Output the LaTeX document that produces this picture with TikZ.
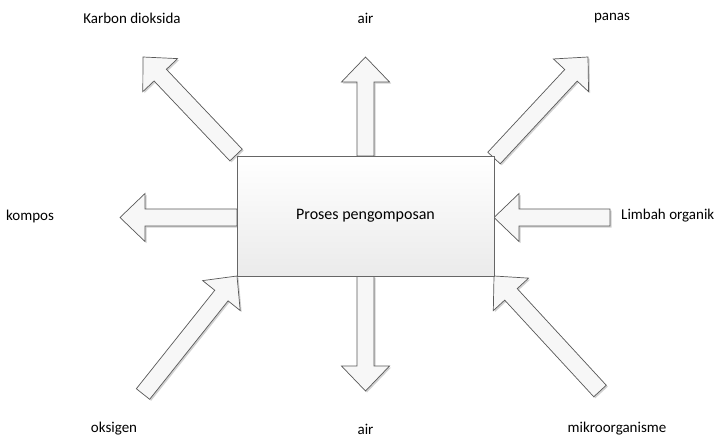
\documentclass[tikz,border=0pt]{standalone}
\usepackage{fontspec}
\setmainfont{Carlito}
\usetikzlibrary{calc,shadows}

\tikzset{
  lbl/.style={font=\fontsize{15}{18}\selectfont, inner sep=0pt},
  procbox/.style={draw=black!60, line width=0.8pt, top color=white, bottom color=black!8,
    font=\fontsize{16}{19}\selectfont, inner sep=0pt,
    drop shadow={shadow xshift=1.2pt, shadow yshift=-1.2pt, opacity=0.15, fill=black}},
  blockarrow/.style={draw=black!65, line width=0.7pt, fill=black!3, line join=miter,
    drop shadow={shadow xshift=1.5pt, shadow yshift=-1.5pt, opacity=0.18, fill=black}}
}

% block arrow from #1 (tail) to #2 (tip): shaft 17, head 48 wide and 25 long
\newcommand\blockarr[2]{%
  \coordinate (ba-h) at ($(#2)!25pt!(#1)$);
  \draw[blockarrow]
    ($(#1)!8.5pt!90:(#2)$) -- ($(ba-h)!8.5pt!90:(#2)$) -- ($(ba-h)!24pt!90:(#2)$)
    -- (#2) -- ($(ba-h)!24pt!-90:(#2)$) -- ($(ba-h)!8.5pt!-90:(#2)$)
    -- ($(#1)!8.5pt!-90:(#2)$) -- cycle;
}

\begin{document}
\begin{tikzpicture}[x=1pt, y=-1pt]
  \useasboundingbox (0,0) rectangle (719,439);

  % central process
  \coordinate (boxc) at (365.5,216);

  % arrow end points
  \coordinate (tl-tail) at (236,155);   \coordinate (tl-tip) at (143,57);
  \coordinate (tu-tail) at (365.5,156); \coordinate (tu-tip) at (365.5,57);
  \coordinate (tr-tail) at (494,158);   \coordinate (tr-tip) at (588,57);
  \coordinate (l-tail)  at (237,217.5); \coordinate (l-tip)  at (120,217.5);
  \coordinate (r-tail)  at (610,217.5); \coordinate (r-tip)  at (494,217.5);
  \coordinate (bl-tail) at (143,394);   \coordinate (bl-tip) at (237,276);
  \coordinate (bd-tail) at (365.5,276); \coordinate (bd-tip) at (365.5,391);
  \coordinate (br-tail) at (600,391);   \coordinate (br-tip) at (494,276);

  \blockarr{tl-tail}{tl-tip}
  \blockarr{tu-tail}{tu-tip}
  \blockarr{tr-tail}{tr-tip}
  \blockarr{l-tail}{l-tip}
  \blockarr{r-tail}{r-tip}
  \blockarr{bl-tail}{bl-tip}
  \blockarr{bd-tail}{bd-tip}
  \blockarr{br-tail}{br-tip}

  \node[procbox, minimum width=257pt, minimum height=120pt] (box) at (boxc) {Proses pengomposan};

  % labels
  \node[lbl] (co2)   at (132,18)  {Karbon dioksida};
  \node[lbl] (airup) at (365.5,18) {air};
  \node[lbl] (panas) at (612,18)  {panas};
  \node[lbl] (kompos) at (30,216) {kompos};
  \node[lbl, anchor=west] (limbah) at (621,216) {Limbah organik};
  \node[lbl] (oks)   at (114,429) {oksigen};
  \node[lbl] (airdn) at (365.5,429) {air};
  \node[lbl] (mikro) at (617,429) {mikroorganisme};
\end{tikzpicture}
\end{document}
